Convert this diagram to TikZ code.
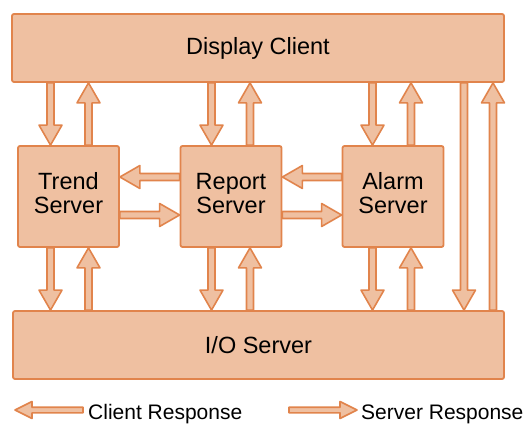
\documentclass[tikz,border=0pt]{standalone}
\usepackage{fontspec}
\setmainfont{Liberation Sans}
\usetikzlibrary{calc}

\definecolor{peach}{RGB}{239,192,161}
\definecolor{rust}{RGB}{225,132,76}

% Hollow block arrow from #1 to #2:
% #3 half shaft width, #4 half head width, #5 head length
\newcommand\blockarrow[5]{%
  \coordinate (bahead) at ($(#2)!#5!(#1)$);
  \draw[flowarrow]
    ($(#1)!#3!90:(#2)$) -- ($(bahead)!#3!90:(#2)$) -- ($(bahead)!#4!90:(#2)$)
    -- (#2)
    -- ($(bahead)!#4!-90:(#2)$) -- ($(bahead)!#3!-90:(#2)$) -- ($(#1)!#3!-90:(#2)$)
    -- cycle;}

\tikzset{
  box/.style={draw=rust, fill=peach, line width=1.8pt, rounded corners=2pt,
    inner sep=0pt, align=center, font=\fontsize{23.5}{24}\selectfont},
  wide/.style={box, minimum width=492pt, minimum height=68pt},
  server/.style={box, minimum width=101pt, minimum height=101pt, text depth=7pt},
  flowarrow/.style={draw=rust, fill=peach, line width=1.6pt, line join=round},
  legendtext/.style={font=\fontsize{21}{23}\selectfont, inner sep=0pt, anchor=base west},
}

\begin{document}
\begin{tikzpicture}[x=1pt, y=-1pt]
  \useasboundingbox (0,0) rectangle (531,425);

  % main blocks
  \node[wide] (dc) at (258,48) {Display Client};
  \node[wide, minimum width=491pt] (io) at (258.5,345) {I/O Server};
  \node[server] (tr) at (68.5,196.5) {Trend\\Server};
  \node[server] (rp) at (231,196.5) {Report\\Server};
  \node[server] (al) at (393,196.5) {Alarm\\Server};

  % arrow columns and rows
  \coordinate (x1) at (50.5,0);
  \coordinate (x2) at (88.5,0);
  \coordinate (x3) at (211.5,0);
  \coordinate (x4) at (250,0);
  \coordinate (x5) at (372.5,0);
  \coordinate (x6) at (411,0);
  \coordinate (x7) at (464,0);
  \coordinate (x8) at (493,0);
  \coordinate (y1) at (0,177);
  \coordinate (y2) at (0,215);

  % display client <-> servers
  \blockarrow{dc.south -| x1}{tr.north -| x1}{3.5pt}{11.5pt}{20pt}
  \blockarrow{tr.north -| x2}{dc.south -| x2}{3.5pt}{11.5pt}{20pt}
  \blockarrow{dc.south -| x3}{rp.north -| x3}{3.5pt}{11.5pt}{20pt}
  \blockarrow{rp.north -| x4}{dc.south -| x4}{3.5pt}{11.5pt}{20pt}
  \blockarrow{dc.south -| x5}{al.north -| x5}{3.5pt}{11.5pt}{20pt}
  \blockarrow{al.north -| x6}{dc.south -| x6}{3.5pt}{11.5pt}{20pt}

  % display client <-> I/O server
  \blockarrow{dc.south -| x7}{io.north -| x7}{3.5pt}{11.5pt}{20pt}
  \blockarrow{io.north -| x8}{dc.south -| x8}{3.5pt}{11.5pt}{20pt}

  % servers <-> I/O server
  \blockarrow{tr.south -| x1}{io.north -| x1}{3.5pt}{11.5pt}{20pt}
  \blockarrow{io.north -| x2}{tr.south -| x2}{3.5pt}{11.5pt}{20pt}
  \blockarrow{rp.south -| x3}{io.north -| x3}{3.5pt}{11.5pt}{20pt}
  \blockarrow{io.north -| x4}{rp.south -| x4}{3.5pt}{11.5pt}{20pt}
  \blockarrow{al.south -| x5}{io.north -| x5}{3.5pt}{11.5pt}{20pt}
  \blockarrow{io.north -| x6}{al.south -| x6}{3.5pt}{11.5pt}{20pt}

  % between servers
  \blockarrow{rp.west |- y1}{tr.east |- y1}{3.5pt}{11.5pt}{20pt}
  \blockarrow{tr.east |- y2}{rp.west |- y2}{3.5pt}{11.5pt}{20pt}
  \blockarrow{al.west |- y1}{rp.east |- y1}{3.5pt}{11.5pt}{20pt}
  \blockarrow{rp.east |- y2}{al.west |- y2}{3.5pt}{11.5pt}{20pt}

  % legend
  \coordinate (cra) at (83,410);
  \coordinate (crb) at (15,410);
  \coordinate (sra) at (289,410);
  \coordinate (srb) at (357,410);
  \blockarrow{cra}{crb}{2.8pt}{8.5pt}{17pt}
  \blockarrow{sra}{srb}{2.8pt}{8.5pt}{17pt}
  \node[legendtext] (crtext) at (88,419) {Client Response};
  \node[legendtext] (srtext) at (361,419) {Server Response};
\end{tikzpicture}
\end{document}
